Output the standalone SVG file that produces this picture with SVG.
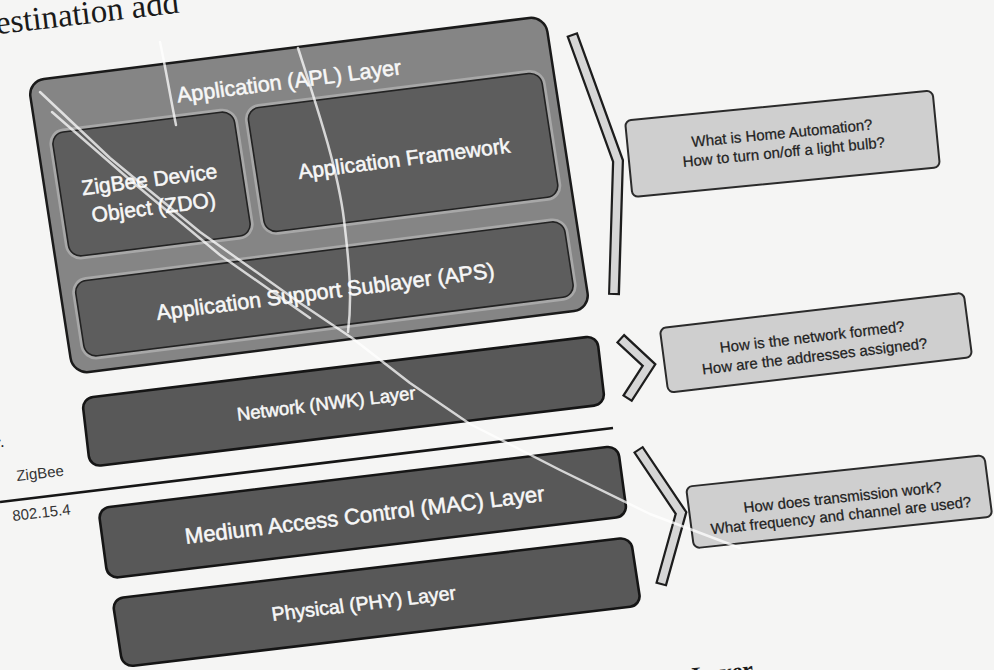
<svg xmlns="http://www.w3.org/2000/svg" width="994" height="670" viewBox="0 0 994 670">
  <style>
    .page{fill:#f5f5f4}
    .outer{fill:#858585;stroke:#1a1a1a;stroke-width:2.5}
    .halo{fill:none;stroke:#a8a8a8;stroke-width:7}
    .inner{fill:#5d5d5d;stroke:#222;stroke-width:1.6}
    .layer{fill:#585858;stroke:#151515;stroke-width:2.6}
    .lbl{font-family:"Liberation Sans",Arial,sans-serif;fill:#f7f7f7;stroke:#f7f7f7;stroke-width:0.55;text-anchor:middle}
    .note{fill:#cfcfcf;stroke:#2b2b2b;stroke-width:2}
    .ntxt{font-family:"Liberation Sans",Arial,sans-serif;fill:#1f1f1f;stroke:#1f1f1f;stroke-width:0.25;text-anchor:middle;font-size:15px}
    .brk-o{fill:none;stroke:#1d1d1d;stroke-width:12;stroke-linejoin:miter}
    .brk-i{fill:none;stroke:#d6d6d6;stroke-width:7.5;stroke-linejoin:miter}
    .side{font-family:"Liberation Sans",Arial,sans-serif;fill:#333;font-size:15px}
    .body{font-family:"Liberation Serif","Times New Roman",serif;fill:#1a1a1a}
    .crease{fill:none;stroke:#ffffff;stroke-width:2.5;opacity:.75;stroke-linecap:round;stroke-linejoin:round}
  </style>

  <rect class="page" x="0" y="0" width="994" height="670"/>

  <!-- running text of the page around the figure -->
  <text class="body" x="-3" y="34" font-size="33" transform="rotate(-6.8 0 34)">estination add</text>
  <text class="body" x="-4" y="447" font-size="16" transform="rotate(-6.8 0 447)">r.</text>
  <text class="body" x="693" y="684" font-size="24" font-weight="bold" transform="rotate(-6.5 693 684)">Layer</text>

  <!-- ZigBee application layer with its sub-blocks -->
  <g id="apl" transform="matrix(0.9923,-0.1248,0.152,0.9899,28,81)">
    <rect class="outer" x="0" y="0" width="521" height="296" rx="16"/>
    <text class="lbl" x="258" y="40" font-size="21.5">Application (APL) Layer</text>
    <g id="zdo">
      <rect class="halo" x="15" y="55" width="183" height="125" rx="12"/>
      <rect class="inner" x="15" y="55" width="183" height="125" rx="12"/>
      <text class="lbl" x="105" y="120" font-size="21">ZigBee Device</text>
      <text class="lbl" x="105" y="148" font-size="21">Object (ZDO)</text>
    </g>
    <g id="af">
      <rect class="halo" x="212" y="55" width="296" height="125" rx="12"/>
      <rect class="inner" x="212" y="55" width="296" height="125" rx="12"/>
      <text class="lbl" x="360" y="131" font-size="21">Application Framework</text>
    </g>
    <g id="aps">
      <rect class="halo" x="15" y="205" width="493" height="76" rx="12"/>
      <rect class="inner" x="15" y="205" width="493" height="76" rx="12"/>
      <text class="lbl" x="262" y="253" font-size="21.5">Application Support Sublayer (APS)</text>
    </g>
  </g>

  <g id="nwk" transform="matrix(0.9923,-0.1204,0.116,0.9928,82,398.25)">
    <rect class="layer" x="0" y="0" width="519" height="69" rx="11"/>
    <text class="lbl" x="242" y="41" font-size="18.5">Network (NWK) Layer</text>
  </g>

  <g id="mac" transform="matrix(0.9933,-0.1195,0.1336,0.9915,98.25,508.25)">
    <rect class="layer" x="0" y="0" width="523" height="71" rx="11"/>
    <text class="lbl" x="263" y="46" font-size="22">Medium Access Control (MAC) Layer</text>
  </g>

  <g id="phy" transform="matrix(0.9931,-0.1178,0.1515,0.9885,112.25,598.75)">
    <rect class="layer" x="0" y="0" width="522" height="69" rx="11"/>
    <text class="lbl" x="248" y="41" font-size="19.5">Physical (PHY) Layer</text>
  </g>

  <!-- boundary between the ZigBee stack and IEEE 802.15.4 -->
  <g id="boundary">
    <line x1="0" y1="502" x2="613" y2="428" stroke="#161616" stroke-width="2.6"/>
    <text class="side" x="17" y="481" transform="rotate(-6.5 17 481)">ZigBee</text>
    <text class="side" x="13" y="521" transform="rotate(-6.5 13 521)">802.15.4</text>
  </g>

  <!-- question callouts -->
  <g id="q-app" transform="matrix(0.9951,-0.0971,0.0975,0.9948,625,120.5)">
    <rect class="note" x="0" y="0" width="309" height="77" rx="6"/>
    <text class="ntxt" x="155" y="33" font-size="14.5">What is Home Automation?</text>
    <text class="ntxt" x="155" y="52" font-size="14.5">How to turn on/off a light bulb?</text>
  </g>

  <g id="q-net" transform="matrix(0.9932,-0.1162,0.1307,0.9914,659.75,328.25)">
    <rect class="note" x="0" y="0" width="306" height="65" rx="6"/>
    <text class="ntxt" x="150" y="31.5">How is the network formed?</text>
    <text class="ntxt" x="150" y="51">How are the addresses assigned?</text>
  </g>

  <g id="q-phy" transform="matrix(0.9944,-0.1051,0.129,0.9919,686,486.75)">
    <rect class="note" x="0" y="0" width="300" height="62" rx="6"/>
    <text class="ntxt" x="154" y="32">How does transmission work?</text>
    <text class="ntxt" x="150" y="50">What frequency and channel are used?</text>
  </g>

  <!-- brackets tying each part of the stack to its questions -->
  <g id="connectors">
    <path class="brk-o" d="M572,34 L618,161 L614,295"/>
    <path class="brk-i" d="M572.7,36 L618,161 L613.9,293"/>
    <path class="brk-o" d="M620,338 L649,365 L627,399"/>
    <path class="brk-i" d="M621.5,339.5 L649,365 L628.2,397.3"/>
    <path class="brk-o" d="M638,449 L681,513 L661,585"/>
    <path class="brk-i" d="M639.1,450.7 L681,513 L661.5,583"/>
  </g>

  <!-- folds in the printed sheet -->
  <g id="folds">
    <path class="crease" d="M40,92 L110,158 L200,232 L300,303 L352,338 L410,383 L470,424 L560,470 L650,514 L740,548"/>
    <path class="crease" d="M52,112 L130,180 L220,255 L310,318" opacity=".5"/>
    <path class="crease" d="M160,42 C166,70 170,95 176,125" opacity=".6"/>
    <path class="crease" d="M298,48 C318,110 338,170 344,220 C350,270 352,300 348,332" opacity=".55"/>
  </g>
</svg>
